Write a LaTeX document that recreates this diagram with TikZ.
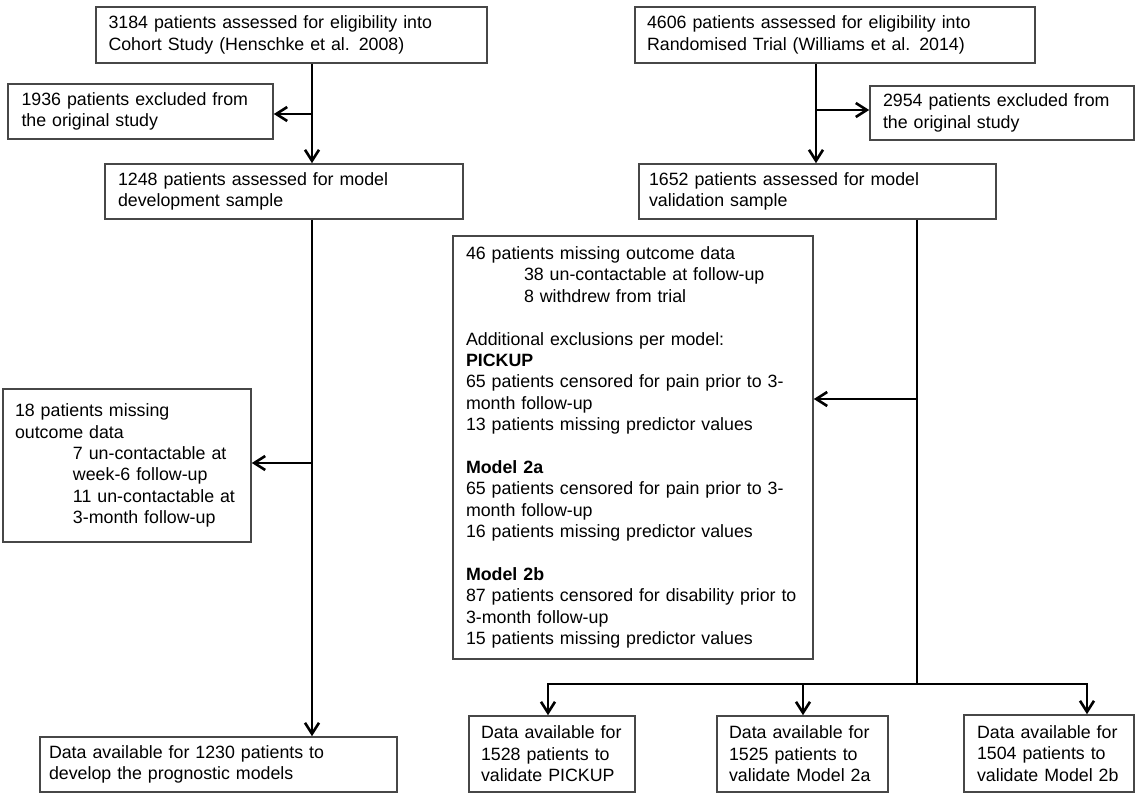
\documentclass[tikz,border=0pt]{standalone}
\usepackage{fontspec}
\setmainfont{Liberation Sans}
\usetikzlibrary{arrows.meta}
\newcommand\bxfont{\fontsize{17.8pt}{21.4pt}\selectfont}
\newcommand\ind{\hspace*{58pt}}
\begin{document}
\begin{tikzpicture}[x=1pt,y=-1pt,
  box/.style={draw=black!72, line width=1.6pt, align=left, inner ysep=0pt, font=\bxfont, text=black},
  conn/.style={line width=1.9pt, draw=black},
  arr/.style={conn, -{Straight Barb[length=11pt,width=14pt,line width=2.6pt]}}]
\useasboundingbox (0,0) rectangle (1138,800);
% left column
\node[box, minimum width=391pt, minimum height=56pt, inner xsep=12.5pt, text width=366pt] (b1) at (291.5,35)
  {3184 patients assessed for eligibility into\\Cohort Study (Henschke et al. 2008)};
\node[box, minimum width=265pt, minimum height=55pt, inner xsep=13.5pt, text width=238pt] (b2) at (140.5,111.5)
  {1936 patients excluded from\\the original study};
\node[box, minimum width=358pt, minimum height=55pt, inner xsep=13pt, text width=332pt] (b3) at (284,191.5)
  {1248 patients assessed for model\\development sample};
\node[box, minimum width=248pt, minimum height=153pt, inner xsep=12pt, text width=224pt] (b4) at (127,465.5)
  {18 patients missing\\outcome data\\\ind 7 un-contactable at\\\ind week-6 follow-up\\\ind 11 un-contactable at\\\ind 3-month follow-up};
\node[box, minimum width=357pt, minimum height=55pt, inner xsep=9pt, text width=339pt] (b5) at (218.5,764.5)
  {Data available for 1230 patients to\\develop the prognostic models};
% right column
\node[box, minimum width=400pt, minimum height=56pt, inner xsep=12pt, text width=376pt] (r1) at (835,35)
  {4606 patients assessed for eligibility into\\Randomised Trial (Williams et al. 2014)};
\node[box, minimum width=264pt, minimum height=54pt, inner xsep=13pt, text width=238pt] (r2) at (1002,113)
  {2954 patients excluded from\\the original study};
\node[box, minimum width=357pt, minimum height=55pt, inner xsep=10pt, text width=337pt] (r3) at (817.5,191.5)
  {1652 patients assessed for model\\validation sample};
\node[box, minimum width=360pt, minimum height=423pt, inner xsep=13pt, text width=334pt] (r4) at (633,447.5)
  {46 patients missing outcome data\\\ind 38 un-contactable at follow-up\\\ind 8 withdrew from trial\\\mbox{}\\
   Additional exclusions per model:\\\textbf{PICKUP}\\65 patients censored for pain prior to 3-\\month follow-up\\13 patients missing predictor values\\\mbox{}\\
   \textbf{Model 2a}\\65 patients censored for pain prior to 3-\\month follow-up\\16 patients missing predictor values\\\mbox{}\\
   \textbf{Model 2b}\\87 patients censored for disability prior to\\3-month follow-up\\15 patients missing predictor values};
\node[box, minimum width=166pt, minimum height=76pt, inner xsep=12pt, text width=142pt] (r5) at (552,754)
  {Data available for\\1528 patients to\\validate PICKUP};
\node[box, minimum width=171pt, minimum height=76pt, inner xsep=12pt, text width=147pt] (r6) at (802.5,754)
  {Data available for\\1525 patients to\\validate Model 2a};
\node[box, minimum width=170pt, minimum height=77pt, inner xsep=13pt, text width=144pt] (r7) at (1049,753.5)
  {Data available for\\1504 patients to\\validate Model 2b};
% trunk coordinates
\coordinate (lt) at (312,0);
\coordinate (rt) at (816,0);
\coordinate (rv) at (917,0);
\coordinate (jb) at (917,399);
\coordinate (bus) at (917,684);
\coordinate (j1) at (548,684);
\coordinate (j2) at (803,684);
\coordinate (j3) at (1087,684);
% left connectors
\draw[arr] (lt |- b1.south) -- (lt |- b3.north);
\draw[arr] (lt |- 0,114) -- (b2.east |- 0,114);
\draw[arr] (lt |- b3.south) -- (lt |- b5.north);
\draw[arr] (lt |- 0,463) -- (b4.east |- 0,463);
% right connectors
\draw[arr] (rt |- r1.south) -- (rt |- r3.north);
\draw[arr] (rt |- 0,110) -- (r2.west |- 0,110);
\draw[conn] (rv |- r3.south) -- (bus);
\draw[arr] (jb) -- (jb -| r4.east);
\draw[conn, line cap=rect] (j1) -- (j3);
\draw[arr] (j1) -- (j1 |- r5.north);
\draw[arr] (j2) -- (j2 |- r6.north);
\draw[arr] (j3) -- (j3 |- r7.north);
\end{tikzpicture}
\end{document}
